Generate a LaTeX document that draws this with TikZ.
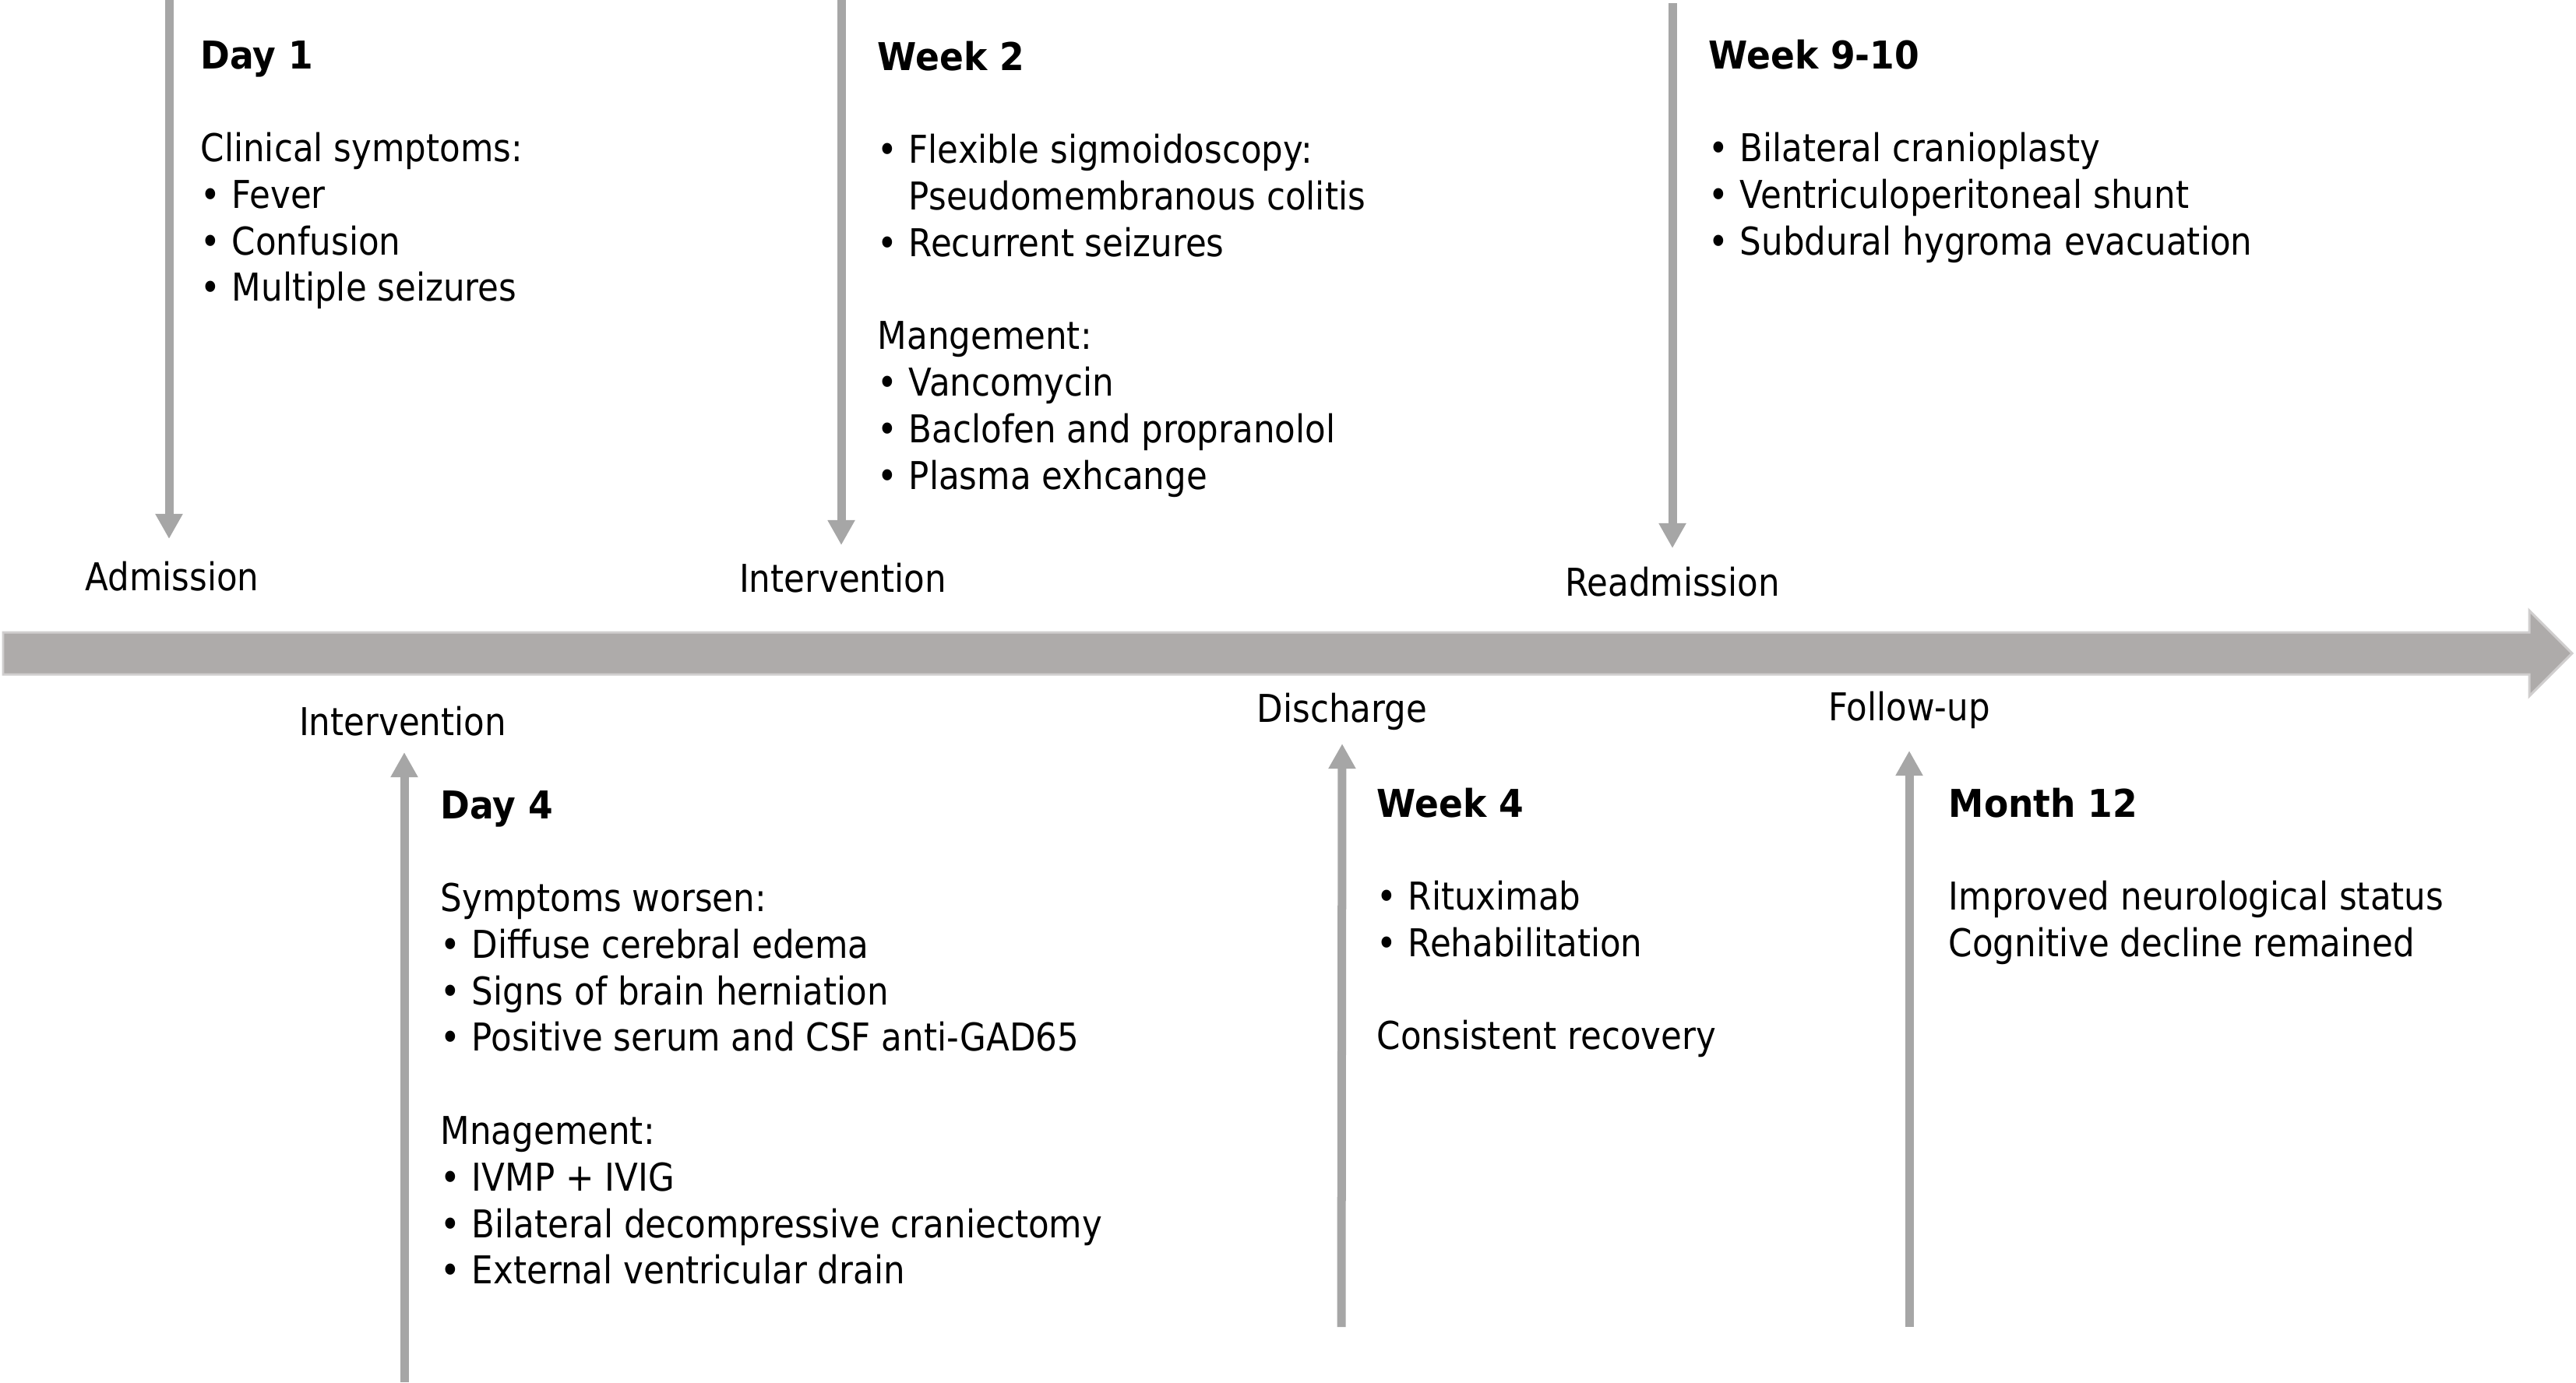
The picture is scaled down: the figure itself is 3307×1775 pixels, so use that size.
\documentclass[tikz,border=0pt]{standalone}
\usepackage{fontspec}
\setmainfont{DejaVu Sans}[FakeStretch=0.885, BoldFeatures={FakeStretch=0.925}]
\usetikzlibrary{arrows.meta}
\definecolor{barfill}{HTML}{AEABAA}
\definecolor{barline}{HTML}{D0CECE}
\definecolor{vline}{HTML}{A6A6A6}
\newcommand\bitem[1]{\makebox[11.4pt][l]{•}#1}
\newcommand\bcont[1]{\hspace*{11.4pt}#1}
\tikzset{
  varrow/.style={draw=vline, line width=0.11cm, -{Triangle[width=0.33cm,length=0.32cm]}},
  evlabel/.style={anchor=base, inner sep=0pt, font=\fontsize{14}{17}\selectfont},
  block/.style={anchor=base west, inner sep=0pt, font=\fontsize{14}{17}\selectfont},
}
\begin{document}
\begin{tikzpicture}[x=0.01cm,y=-0.01cm]
\useasboundingbox (0,0) rectangle (3307,1775);
% main timeline
\draw[fill=barfill, draw=barline, line width=0.85pt]
  (4,812) -- (3247,812) -- (3247,784) -- (3302,839) -- (3247,894) -- (3247,866) -- (4,866) -- cycle;

% event labels
\node[evlabel] (adm) at (221,758) {Admission};
\node[evlabel] (int1) at (1082,760) {Intervention};
\node[evlabel] (readm) at (2147,765) {Readmission};
\node[evlabel] (int2) at (517,944) {Intervention};
\node[evlabel] (disch) at (1723,927) {Discharge};
\node[evlabel] (fup) at (2451,925) {Follow-up};

% arrow end points
\coordinate (a1s) at (217,0);    \coordinate (a1e) at (217,692);
\coordinate (a2s) at (1080,0);   \coordinate (a2e) at (1080,700);
\coordinate (a3s) at (2147,4);   \coordinate (a3e) at (2147,704);
\coordinate (a4s) at (519,1775); \coordinate (a4e) at (519,966);
\coordinate (a5s) at (1722,1704); \coordinate (a5e) at (1723,955);
\coordinate (a6s) at (2451,1704); \coordinate (a6e) at (2451,964);
\draw[varrow] (a1s) -- (a1e);
\draw[varrow] (a2s) -- (a2e);
\draw[varrow] (a3s) -- (a3e);
\draw[varrow] (a4s) -- (a4e);
\draw[varrow] (a5s) -- (a5e);
\draw[varrow] (a6s) -- (a6e);

% text blocks
\node[block] (day1) at (257,88) {\begin{tabular}[t]{@{}l@{}}
\textbf{Day 1}\\
\\
Clinical symptoms:\\
\bitem{Fever}\\
\bitem{Confusion}\\
\bitem{Multiple seizures}
\end{tabular}};

\node[block] (week2) at (1126,90) {\begin{tabular}[t]{@{}l@{}}
\textbf{Week 2}\\
\\
\bitem{Flexible sigmoidoscopy:}\\
\bcont{Pseudomembranous colitis}\\
\bitem{Recurrent seizures}\\
\\
Mangement:\\
\bitem{Vancomycin}\\
\bitem{Baclofen and propranolol}\\
\bitem{Plasma exhcange}
\end{tabular}};

\node[block] (week910) at (2193,88) {\begin{tabular}[t]{@{}l@{}}
\textbf{Week 9-10}\\
\\
\bitem{Bilateral cranioplasty}\\
\bitem{Ventriculoperitoneal shunt}\\
\bitem{Subdural hygroma evacuation}
\end{tabular}};

\node[block] (day4) at (565,1051) {\begin{tabular}[t]{@{}l@{}}
\textbf{Day 4}\\
\\
Symptoms worsen:\\
\bitem{Diffuse cerebral edema}\\
\bitem{Signs of brain herniation}\\
\bitem{Positive serum and CSF anti-GAD65}\\
\\
Mnagement:\\
\bitem{IVMP + IVIG}\\
\bitem{Bilateral decompressive craniectomy}\\
\bitem{External ventricular drain}
\end{tabular}};

\node[block] (week4) at (1767,1049) {\begin{tabular}[t]{@{}l@{}}
\textbf{Week 4}\\
\\
\bitem{Rituximab}\\
\bitem{Rehabilitation}\\
\\
Consistent recovery
\end{tabular}};

\node[block] (month12) at (2501,1049) {\begin{tabular}[t]{@{}l@{}}
\textbf{Month 12}\\
\\
Improved neurological status\\
Cognitive decline remained
\end{tabular}};
\end{tikzpicture}
\end{document}
